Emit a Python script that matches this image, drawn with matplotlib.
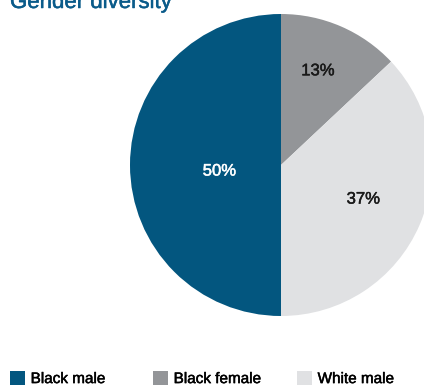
import matplotlib
matplotlib.use('Agg')
import matplotlib.pyplot as plt
import matplotlib.patheffects as pe
import numpy as np

plt.rcParams['font.family'] = ['Liberation Sans', 'DejaVu Sans']

# 数据
labels = ['Black male', 'Black female', 'White male']
shares = [50, 13, 37]
colors = ['#03567F', '#939598', '#E0E1E3']
pct_colors = ['white', '#1a1a1a', '#1a1a1a']
pct_dist = [0.41, 0.67, 0.59]
pct_shift = [5.6, 2.0, 0.9]  # 标签角度微调（度）

W, H = 424, 385
fig = plt.figure(figsize=(W / 100, H / 100), dpi=100)


def thicken(color):
    # 略微加粗文字
    return [pe.withStroke(linewidth=0.35, foreground=color)]


# 饼图位置：圆心 (281, 165)，半径 151 像素
cx, cy, r = 281, 165, 151
ax = fig.add_axes([(cx - r) / W, (H - cy - r) / H, 2 * r / W, 2 * r / H])

wedges, texts, autotexts = ax.pie(
    shares, colors=colors, startangle=270, counterclock=False,
    autopct='%d%%', pctdistance=0.6,
    wedgeprops=dict(linewidth=0),
    textprops=dict(fontsize=12))
ax.set_xlim(-1, 1)
ax.set_ylim(-1, 1)
ax.set_aspect('equal')
ax.axis('off')

# 调整百分比标签位置
for w, t, d, s, c in zip(wedges, autotexts, pct_dist, pct_shift, pct_colors):
    mid = np.deg2rad((w.theta1 + w.theta2) / 2 + s)
    t.set_position((d * np.cos(mid), d * np.sin(mid)))
    t.set_color(c)
    t.set_path_effects(thicken(c))

# 标题
title_color = '#0A5B8A'
fig.text(10 / W, 1 - 8 / H, 'Gender diversity', fontsize=16,
         color=title_color, ha='left', va='baseline',
         path_effects=thicken(title_color))

# 图例（每项单独放置）
leg_x = [10, 153, 297]
for w, lab, x in zip(wedges, labels, leg_x):
    leg = fig.legend([w], [lab], loc='upper left',
                     bbox_to_anchor=(x / W, 1 - 371 / H),
                     frameon=False, fontsize=11,
                     handlelength=1.0, handleheight=1.0,
                     handletextpad=0.35, borderpad=0, borderaxespad=0)
    for t in leg.get_texts():
        t.set_path_effects(thicken('black'))

fig.savefig('out.png', dpi=100)
